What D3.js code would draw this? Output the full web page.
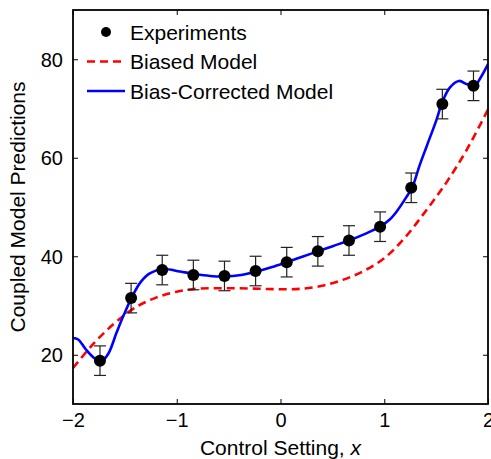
<!DOCTYPE html>
<html>
<head>
<meta charset="utf-8">
<script src="https://cdn.jsdelivr.net/npm/d3@7"></script>
<style>
  html, body { margin: 0; padding: 0; background: #fff; }
  svg { display: block; }
  text { font-family: "Liberation Sans", Arial, Helvetica, sans-serif; fill: #000; }
</style>
</head>
<body>
<script>
// Experimental measurements (control setting, response) with symmetric error bars
const expX = [-1.74, -1.44, -1.14, -0.84, -0.54, -0.24, 0.06, 0.36, 0.66, 0.96, 1.26, 1.56, 1.86];
const expY = [18.8, 31.5, 37.2, 36.2, 36.0, 37.0, 38.8, 41.0, 43.2, 46.0, 53.9, 70.9, 74.6];
const expErr = [3, 3, 3, 3, 3, 3, 3, 3, 3, 3, 3, 3, 3];

// Biased model prediction
const biasedX = [-2.0, -1.8, -1.6, -1.4, -1.2, -1.0, -0.8, -0.6, -0.4, -0.2, 0.0, 0.2, 0.4, 0.6, 0.8, 1.0, 1.2, 1.4, 1.6, 1.8, 2.0];
const biasedY = [17.3, 22.3, 26.4, 29.6, 31.6, 32.8, 33.4, 33.5, 33.5, 33.4, 33.3, 33.4, 34.0, 35.2, 37.0, 39.6, 43.8, 49.2, 55.0, 61.8, 69.8];

// Bias-corrected model prediction
const correctedX = [-2.00, -1.95, -1.88, -1.80, -1.73, -1.66, -1.58, -1.51, -1.43, -1.35, -1.26, -1.13, -0.97, -0.83, -0.68, -0.54, -0.38, -0.23, -0.08, 0.06, 0.21, 0.36, 0.51, 0.66, 0.81, 0.96, 1.05, 1.12, 1.21, 1.27, 1.34, 1.41, 1.50, 1.56, 1.63, 1.72, 1.80, 1.87, 1.93, 2.00];
const correctedY = [23.4, 23.1, 21.2, 19.4, 18.6, 20.2, 24.5, 28.1, 31.8, 34.7, 36.5, 37.4, 36.9, 36.4, 36.0, 35.9, 36.2, 36.9, 37.8, 38.8, 39.9, 41.0, 42.1, 43.2, 44.5, 46.0, 47.4, 49.1, 51.9, 54.0, 58.4, 62.4, 67.5, 71.3, 74.2, 75.6, 74.9, 74.6, 76.3, 79.0];

// Axis ticks and labels
const xTicks = [-2, -1, 0, 1, 2];
const yTicks = [20, 40, 60, 80];
const xDomain = [-2, 2];
const yDomain = [10, 90];
const legendLabels = ["Experiments", "Biased Model", "Bias-Corrected Model"];
const xLabel = "Control Setting, ";
const xLabelVar = "x";
const yLabel = "Coupled Model Predictions";

const W = 491, H = 459;
const m = { left: 73, right: 3, top: 10, bottom: 55 };
const pw = W - m.left - m.right, ph = H - m.top - m.bottom;

const svg = d3.select("body").append("svg").attr("width", W).attr("height", H);
const g = svg.append("g").attr("transform", `translate(${m.left},${m.top})`);

const x = d3.scaleLinear().domain(xDomain).range([0, pw]);
const y = d3.scaleLinear().domain(yDomain).range([ph, 0]);

svg.append("defs").append("clipPath").attr("id", "plotclip")
  .append("rect").attr("x", 0).attr("y", 0).attr("width", pw).attr("height", ph);

const minus = v => (v < 0 ? "\u2212" + Math.abs(v) : String(v));

// Axes with inward ticks on all four sides
const tickLen = 5;
const fontTick = 20;
const ax = g.append("g").attr("transform", `translate(0,${ph})`)
  .call(d3.axisBottom(x).tickValues(xTicks).tickSizeInner(-tickLen).tickSizeOuter(0).tickPadding(9).tickFormat(minus));
const ay = g.append("g")
  .call(d3.axisLeft(y).tickValues(yTicks).tickSizeInner(-tickLen).tickSizeOuter(0).tickPadding(10).tickFormat(minus));
const axTop = g.append("g")
  .call(d3.axisTop(x).tickValues(xTicks).tickSizeInner(-tickLen).tickSizeOuter(0).tickFormat(""));
const ayRight = g.append("g").attr("transform", `translate(${pw},0)`)
  .call(d3.axisRight(y).tickValues(yTicks).tickSizeInner(-tickLen).tickSizeOuter(0).tickFormat(""));

[ax, ay, axTop, ayRight].forEach(a => {
  a.select(".domain").remove();
  a.selectAll(".tick line").attr("stroke", "#000").attr("stroke-width", 1);
  a.selectAll(".tick text").attr("font-size", fontTick).attr("font-family", "Liberation Sans, Arial, sans-serif").attr("fill", "#000");
});
ax.selectAll(".tick text").attr("dy", "0.71em");
ay.selectAll(".tick text").attr("dy", "0.35em");

// Plot content
const plot = g.append("g").attr("clip-path", "url(#plotclip)");

const biasedData = biasedX.map((v, i) => [v, biasedY[i]]);
const correctedData = correctedX.map((v, i) => [v, correctedY[i]]);

const line = d3.line().x(d => x(d[0])).y(d => y(d[1])).curve(d3.curveCatmullRom.alpha(0.5));

plot.append("path").datum(biasedData)
  .attr("d", line).attr("fill", "none")
  .attr("stroke", "#ff0000").attr("stroke-width", 2.6).attr("stroke-dasharray", "8,5");

plot.append("path").datum(correctedData)
  .attr("d", line).attr("fill", "none")
  .attr("stroke", "#0000ff").attr("stroke-width", 2.6);

// Error bars
const expData = expX.map((v, i) => ({ x: v, y: expY[i], e: expErr[i] }));
const capW = 6;
const eb = plot.append("g").attr("stroke", "#222").attr("stroke-width", 1.2);
eb.selectAll("line.v").data(expData).join("line")
  .attr("x1", d => x(d.x)).attr("x2", d => x(d.x))
  .attr("y1", d => y(d.y - d.e)).attr("y2", d => y(d.y + d.e));
eb.selectAll("line.t").data(expData).join("line")
  .attr("x1", d => x(d.x) - capW).attr("x2", d => x(d.x) + capW)
  .attr("y1", d => y(d.y + d.e)).attr("y2", d => y(d.y + d.e));
eb.selectAll("line.b").data(expData).join("line")
  .attr("x1", d => x(d.x) - capW).attr("x2", d => x(d.x) + capW)
  .attr("y1", d => y(d.y - d.e)).attr("y2", d => y(d.y - d.e));

plot.append("g").selectAll("circle").data(expData).join("circle")
  .attr("cx", d => x(d.x)).attr("cy", d => y(d.y)).attr("r", 6).attr("fill", "#000");

// Frame
g.append("rect").attr("x", 0).attr("y", 0).attr("width", pw).attr("height", ph)
  .attr("fill", "none").attr("stroke", "#000").attr("stroke-width", 1.8);

// Legend
const legFont = 21;
const leg = g.append("g").attr("transform", "translate(14,22)");
const rowH = 29.5;
leg.append("circle").attr("cx", 19).attr("cy", 0).attr("r", 5).attr("fill", "#000");
leg.append("line").attr("x1", 0).attr("x2", 38).attr("y1", rowH).attr("y2", rowH)
  .attr("stroke", "#ff0000").attr("stroke-width", 2.6).attr("stroke-dasharray", "8,5");
leg.append("line").attr("x1", 0).attr("x2", 38).attr("y1", 2 * rowH).attr("y2", 2 * rowH)
  .attr("stroke", "#0000ff").attr("stroke-width", 2.6);
leg.selectAll("text").data(legendLabels).join("text")
  .attr("x", 43).attr("y", (d, i) => i * rowH).attr("dy", "0.36em")
  .attr("font-size", legFont).text(d => d);

// Axis titles
const xt = svg.append("text")
  .attr("x", m.left + pw / 2).attr("y", 455)
  .attr("text-anchor", "middle").attr("font-size", 21);
xt.append("tspan").text(xLabel);
xt.append("tspan").attr("font-style", "italic").text(xLabelVar);

svg.append("text")
  .attr("transform", `translate(25,${m.top + ph / 2}) rotate(-90)`)
  .attr("text-anchor", "middle").attr("font-size", 21).text(yLabel);
</script>
</body>
</html>
